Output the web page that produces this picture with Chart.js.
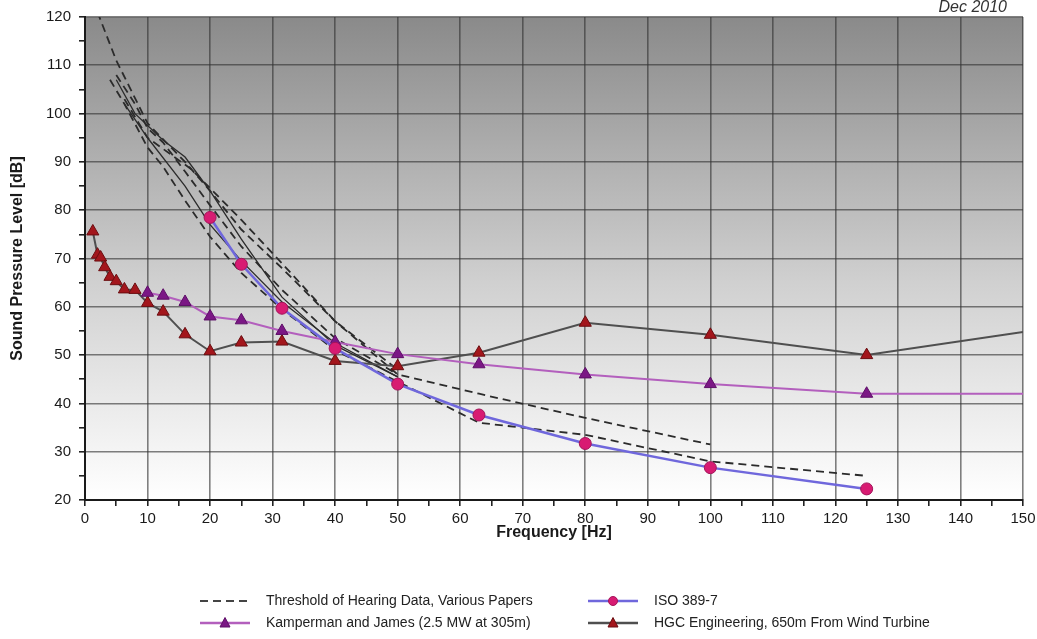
<!DOCTYPE html>
<html>
<head>
<meta charset="utf-8">
<script src="https://cdn.jsdelivr.net/npm/chart.js@4.4.0/dist/chart.umd.min.js"></script>
<style>
  html, body { margin: 0; padding: 0; background: #fff; }
</style>
</head>
<body>
<canvas id="myChart" width="1037" height="639"></canvas>
<script>
// ISO 389-7
var isoFreq = [20, 25, 31.5, 40, 50, 63, 80, 100, 125];
var isoLevel = [78.5, 68.8, 59.7, 51.4, 44, 37.6, 31.7, 26.7, 22.3];

// Kamperman and James (2.5 MW at 305m)
var kjFreq = [10, 12.5, 16, 20, 25, 31.5, 40, 50, 63, 80, 100, 125, 150];
var kjLevel = [62.9, 62.3, 61, 58, 57.2, 55, 52.7, 50.2, 48.1, 46, 44, 42, 42];

// HGC Engineering, 650m From Wind Turbine
var hgcFreq = [1.25, 2, 2.5, 3.15, 4, 5, 6.3, 8, 10, 12.5, 16, 20, 25, 31.5, 40, 50, 63, 80, 100, 125, 150];
var hgcLevel = [75.6, 70.8, 70.2, 68.2, 66.2, 65.3, 63.6, 63.5, 60.8, 59, 54.3, 50.8, 52.6, 52.8, 48.8, 47.7, 50.5, 56.7, 54.2, 50, 54.8];

// Threshold of hearing data, various papers (dashed / thin solid curves)
var thrAFreq = [2, 5, 10, 16, 20, 25, 31.5, 40, 50, 63, 80, 100];
var thrALevel = [121, 111, 98, 90, 84, 76, 68, 57, 46, 42, 37, 31.5];
var thrBFreq = [4, 6.3, 10, 12.5, 16, 20, 25, 31.5, 40, 50, 63, 80, 100, 125];
var thrBLevel = [107, 102, 93, 89, 82, 74.5, 67, 59.5, 51, 44.5, 36, 33.5, 28, 25];
var thrCFreq = [5, 8, 10, 12.5, 16, 20, 25, 31.5, 40, 50];
var thrCLevel = [108, 102, 97, 94, 88, 81, 72.5, 63.5, 53.5, 46];
var thrDFreq = [6.3, 10, 17, 25, 31.5, 40, 50];
var thrDLevel = [103, 95, 88.5, 78, 69, 57, 47];
var thrEFreq = [5, 8, 12.5, 16, 20, 25, 31.5, 40, 50];
var thrELevel = [107, 100, 94.5, 91, 84, 74, 62, 52, 45.5];
var thrFFreq = [6.3, 10, 16, 20, 25, 31.5, 40, 50];
var thrFLevel = [102, 95, 85, 77, 69.5, 61, 52.5, 45.5];

var legendLabels = ['Threshold of Hearing Data, Various Papers', 'ISO 389-7',
  'Kamperman and James (2.5 MW at 305m)', 'HGC Engineering, 650m From Wind Turbine'];

function pts(xs, ys) {
  return xs.map(function(x, i) { return { x: x, y: ys[i] }; });
}

// last point of the two wind turbine series is a line end only, no marker
function endless(n, r) {
  return Array.from({ length: n }, function(_, i) { return i === n - 1 ? 0 : r; });
}

var FONT = "'Liberation Sans', Arial, sans-serif";

function thr(xs, ys, dashed) {
  return {
    label: 'thr', data: pts(xs, ys), showLine: true, fill: false,
    borderColor: '#2b2b2b', borderWidth: dashed ? 1.8 : 1.3,
    borderDash: dashed ? [8, 5] : [], pointRadius: 0, order: 10
  };
}

var bgPlugin = {
  id: 'bg',
  beforeDraw: function(chart) {
    var a = chart.chartArea, c = chart.ctx;
    var g = c.createLinearGradient(0, a.top, 0, a.bottom);
    g.addColorStop(0, '#8a8a8a');
    g.addColorStop(0.55, '#d0d0d0');
    g.addColorStop(1, '#ffffff');
    c.save();
    c.fillStyle = g;
    c.fillRect(a.left, a.top, a.right - a.left, a.bottom - a.top);
    c.restore();
  }
};

var legendPlugin = {
  id: 'myLegend',
  afterDraw: function(chart) {
    var c = chart.ctx;
    var cols = [200, 588];
    var rows = [601, 623];
    var items = [
      { dash: true },
      { line: '#6f67dc', marker: 'circle', fill: '#d81b72', stroke: '#a3145a' },
      { line: '#b35fbd', marker: 'triangle', fill: '#7b1785', stroke: '#5e0f68' },
      { line: '#4f4f4f', marker: 'triangle', fill: '#a3161c', stroke: '#6b0d10' }
    ];
    c.save();
    c.font = '14px ' + FONT;
    c.textBaseline = 'middle';
    items.forEach(function(it, i) {
      var x = cols[i % 2], y = rows[Math.floor(i / 2)];
      c.beginPath();
      c.moveTo(x, y);
      c.lineTo(x + 50, y);
      if (it.dash) {
        c.setLineDash([8, 5]);
        c.strokeStyle = '#444';
        c.lineWidth = 1.8;
      } else {
        c.setLineDash([]);
        c.strokeStyle = it.line;
        c.lineWidth = 2.5;
      }
      c.stroke();
      c.setLineDash([]);
      if (it.marker) {
        var mx = x + 25;
        c.beginPath();
        if (it.marker === 'circle') {
          c.arc(mx, y, 4.5, 0, Math.PI * 2);
        } else {
          c.moveTo(mx, y - 5.5);
          c.lineTo(mx + 5, y + 4);
          c.lineTo(mx - 5, y + 4);
          c.closePath();
        }
        c.fillStyle = it.fill;
        c.fill();
        c.strokeStyle = it.stroke;
        c.lineWidth = 1;
        c.stroke();
      }
      c.fillStyle = '#222';
      c.fillText(legendLabels[i], x + 66, y);
    });
    // date stamp top right
    c.font = 'italic 16px ' + FONT;
    c.textAlign = 'right';
    c.fillStyle = '#333';
    c.fillText('Dec 2010', 1007, 8);
    c.restore();
  }
};

var ctx = document.getElementById('myChart').getContext('2d');
var myChart = new Chart(ctx, {
  type: 'scatter',
  data: {
    datasets: [
      {
        label: legendLabels[1], data: pts(isoFreq, isoLevel), showLine: true,
        borderColor: '#6f67dc', borderWidth: 2.5,
        pointStyle: 'circle', pointRadius: 6, pointBackgroundColor: '#d81b72',
        pointBorderColor: '#a3145a', pointBorderWidth: 1, order: 1
      },
      {
        label: legendLabels[2], data: pts(kjFreq, kjLevel), showLine: true,
        borderColor: '#b35fbd', borderWidth: 2,
        pointStyle: 'triangle', pointRadius: endless(kjFreq.length, 7),
        pointBackgroundColor: '#7b1785', pointBorderColor: '#5e0f68', pointBorderWidth: 1, order: 2
      },
      {
        label: legendLabels[3], data: pts(hgcFreq, hgcLevel), showLine: true,
        borderColor: '#4f4f4f', borderWidth: 2,
        pointStyle: 'triangle', pointRadius: endless(hgcFreq.length, 7),
        pointBackgroundColor: '#a3161c', pointBorderColor: '#6b0d10', pointBorderWidth: 1, order: 3
      },
      thr(thrAFreq, thrALevel, true),
      thr(thrBFreq, thrBLevel, true),
      thr(thrCFreq, thrCLevel, true),
      thr(thrDFreq, thrDLevel, true),
      thr(thrEFreq, thrELevel, false),
      thr(thrFFreq, thrFLevel, false)
    ]
  },
  options: {
    responsive: false,
    animation: false,
    layout: { padding: { top: 16, right: 14, bottom: 93, left: 0 } },
    plugins: {
      legend: { display: false },
      tooltip: { enabled: false }
    },
    scales: {
      x: {
        type: 'linear', min: 0, max: 150,
        afterFit: function(s) { s.height = 46; s.paddingRight = 0; s.paddingLeft = 0; },
        ticks: {
          stepSize: 5, autoSkip: false, maxRotation: 0, padding: 4,
          color: '#1a1a1a', font: { family: FONT, size: 15 },
          callback: function(v) { return v % 10 === 0 ? v : ''; }
        },
        grid: {
          color: function(c) { return c.tick && c.tick.value % 10 === 0 ? 'rgba(50,50,50,0.62)' : 'rgba(0,0,0,0)'; },
          lineWidth: 1.6, tickColor: '#222', tickLength: 6
        },
        border: { color: '#1a1a1a', width: 2 },
        title: {
          display: true, text: 'Frequency [Hz]', color: '#1a1a1a',
          font: { family: FONT, size: 16, weight: 'bold' }, padding: { top: 2, bottom: 4 }
        }
      },
      y: {
        min: 20, max: 120,
        afterFit: function(s) { s.width = 85; },
        ticks: {
          stepSize: 5, autoSkip: false, padding: 8,
          color: '#1a1a1a', font: { family: FONT, size: 15 },
          callback: function(v) { return v % 10 === 0 ? v : ''; }
        },
        grid: {
          color: function(c) { return c.tick && c.tick.value % 10 === 0 ? 'rgba(50,50,50,0.62)' : 'rgba(0,0,0,0)'; },
          lineWidth: 1.6, tickColor: '#222', tickLength: 6
        },
        border: { color: '#1a1a1a', width: 2 },
        title: {
          display: true, text: 'Sound Pressure Level [dB]', color: '#1a1a1a',
          font: { family: FONT, size: 16, weight: 'bold' }, padding: { top: 8, bottom: 0 }
        }
      }
    }
  },
  plugins: [bgPlugin, legendPlugin]
});
</script>
</body>
</html>
